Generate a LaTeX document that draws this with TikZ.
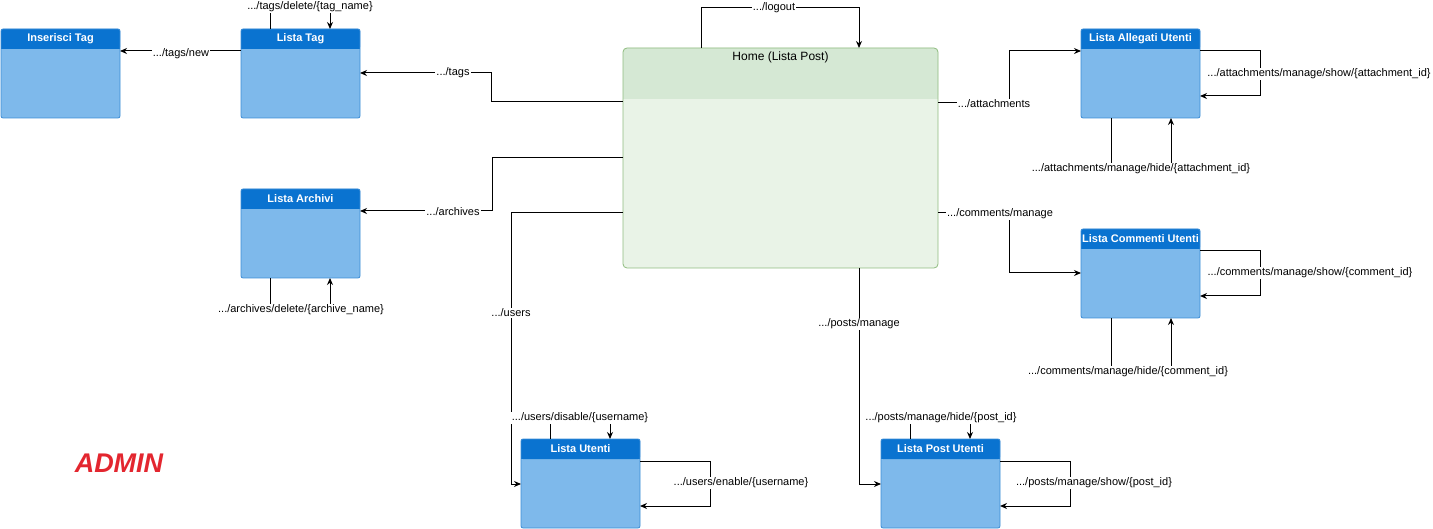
\documentclass[tikz,border=0pt]{standalone}
\usepackage{fontspec}
\setmainfont{Liberation Sans}
\usetikzlibrary{arrows.meta,calc}

\definecolor{hdrblue}{HTML}{0A73D0}
\definecolor{bodyblue}{HTML}{7EB9EB}
\definecolor{edgeblue}{HTML}{3C8DD6}
\definecolor{homehdr}{HTML}{D5E8D4}
\definecolor{homebody}{HTML}{E9F3E7}
\definecolor{homeedge}{HTML}{8FBC7F}
\definecolor{adminred}{HTML}{E3262F}

\tikzset{
  listbox/.style={fill=bodyblue, rounded corners=2pt, minimum width=119pt,
    minimum height=89pt, inner sep=0pt, outer sep=0pt},
  boxtitle/.style={text=white, font=\fontsize{11}{13}\selectfont\bfseries, inner sep=0pt},
  arr/.style={draw=black, line width=1pt, -{Stealth[length=7pt,width=6pt]}},
  lbl/.style={fill=white, inner sep=1pt, font=\fontsize{11}{13}\selectfont, text=black},
}

% a list panel: name, left x, top y, title
\newcommand{\listpanel}[4]{%
  \node[listbox] (#1) at (#2+59.5,#3+44.5) {};
  \fill[hdrblue, rounded corners=2pt] (#1.north west) rectangle ([yshift=-20pt]#1.north east);
  \fill[hdrblue] ([yshift=-10pt]#1.north west) rectangle ([yshift=-20pt]#1.north east);
  \draw[edgeblue, line width=0.8pt, rounded corners=2pt] (#1.north west) rectangle (#1.south east);
  \node[boxtitle] (#1-t) at ([yshift=-10pt]#1.north) {#4};
}

\begin{document}
\begin{tikzpicture}[x=1pt,y=-1pt]
\useasboundingbox (0,0) rectangle (1433,529);

% main page
\node[fill=homebody, rounded corners=4pt, minimum width=315pt, minimum height=220pt,
  inner sep=0pt, outer sep=0pt] (home) at (780.5,158) {};
\fill[homehdr, rounded corners=4pt] (home.north west) rectangle ([yshift=-51pt]home.north east);
\fill[homehdr] ([yshift=-30pt]home.north west) rectangle ([yshift=-51pt]home.north east);
\draw[homeedge, line width=0.8pt, rounded corners=4pt] (home.north west) rectangle (home.south east);
\node[font=\fontsize{12}{14}\selectfont, inner sep=0pt] (home-t) at ([yshift=-9pt]home.north) {Home (Lista Post)};

% list panels
\listpanel{instag}{1}{29}{Inserisci Tag}
\listpanel{tag}{241}{29}{Lista Tag}
\listpanel{arch}{241}{189}{Lista Archivi}
\listpanel{alleg}{1081}{29}{Lista Allegati Utenti}
\listpanel{comm}{1081}{229}{Lista Commenti Utenti}
\listpanel{utenti}{521}{439}{Lista Utenti}
\listpanel{postu}{881}{439}{Lista Post Utenti}

% tags
\draw[arr] ([yshift=-22pt]tag.north west) -- ([yshift=-22pt]instag.north east)
  node[lbl] (l-new) at (181,54) {.../tags/new};
\draw[arr] ([xshift=29pt]tag.north west) -- ++(0,-22) -| ([xshift=89pt]tag.north west)
  node[lbl] (l-tagdel) at (310,7) {.../tags/delete/\{tag\_name\}};
\draw[arr] ([yshift=-54pt]home.north west) -- ++(-132,0) |- ([yshift=-44pt]tag.north east)
  node[lbl] (l-tags) at (453,73) {.../tags};

% archives
\draw[arr] ([yshift=-110pt]home.north west) -- ++(-131,0) |- ([yshift=-22pt]arch.north east)
  node[lbl] (l-arch) at (453,212) {.../archives};
\draw[arr] ([xshift=29pt]arch.south west) -- ++(0,32) -| ([xshift=89pt]arch.south west)
  node[lbl] (l-archdel) at (301,310) {.../archives/delete/\{archive\_name\}};

% users
\draw[arr] ([yshift=-165pt]home.north west) -| ([xshift=-10pt,yshift=-45pt]utenti.north west)
  -- ([yshift=-45pt]utenti.north west)
  node[lbl] (l-users) at (511,313) {.../users};
\draw[arr] ([xshift=29pt]utenti.north west) -- ++(0,-21) -| ([xshift=89pt]utenti.north west)
  node[lbl] (l-disable) at (580,418) {.../users/disable/\{username\}};
\draw[arr] ([yshift=-22pt]utenti.north east) -- ++(70,0) |- ([yshift=-67pt]utenti.north east)
  node[lbl] (l-enable) at (741,483) {.../users/enable/\{username\}};

% posts
\draw[arr] ([xshift=236pt]home.south west) |- ([yshift=-45pt]postu.north west)
  node[lbl] (l-posts) at (859,324) {.../posts/manage};
\draw[arr] ([xshift=29pt]postu.north west) -- ++(0,-21) -| ([xshift=89pt]postu.north west)
  node[lbl] (l-phide) at (941,418) {.../posts/manage/hide/\{post\_id\}};
\draw[arr] ([yshift=-22pt]postu.north east) -- ++(70,0) |- ([yshift=-67pt]postu.north east)
  node[lbl] (l-pshow) at (1094,483) {.../posts/manage/show/\{post\_id\}};

% logout
\draw[arr] ([xshift=78pt]home.north west) -- ++(0,-40) -| ([xshift=236pt]home.north west)
  node[lbl] (l-logout) at (774,8) {.../logout};

% attachments
\draw[arr] ([yshift=-55pt]home.north east) -- ++(71,0) |- ([yshift=-22pt]alleg.north west)
  node[lbl] (l-att) at (994,104) {.../attachments};
\draw[arr] ([yshift=-22pt]alleg.north east) -- ++(60,0) |- ([yshift=-67pt]alleg.north east)
  node[lbl] (l-attshow) at (1319,74) {.../attachments/manage/show/\{attachment\_id\}};
\draw[arr] ([xshift=30pt]alleg.south west) -- ++(0,51) -| ([xshift=90pt]alleg.south west)
  node[lbl] (l-atthide) at (1141,169) {.../attachments/manage/hide/\{attachment\_id\}};

% comments
\draw[arr] ([yshift=-165pt]home.north east) -- ++(71,0) |- ([yshift=-44pt]comm.north west)
  node[lbl] (l-comm) at (1000,214) {.../comments/manage};
\draw[arr] ([yshift=-22pt]comm.north east) -- ++(60,0) |- ([yshift=-67pt]comm.north east)
  node[lbl] (l-commshow) at (1310,273) {.../comments/manage/show/\{comment\_id\}};
\draw[arr] ([xshift=30pt]comm.south west) -- ++(0,52) -| ([xshift=90pt]comm.south west)
  node[lbl] (l-commhide) at (1128,372) {.../comments/manage/hide/\{comment\_id\}};

% role caption
\node[text=adminred, font=\fontsize{27}{30}\selectfont\bfseries\itshape, inner sep=0pt]
  (admin) at (119,463) {ADMIN};
\end{tikzpicture}
\end{document}
